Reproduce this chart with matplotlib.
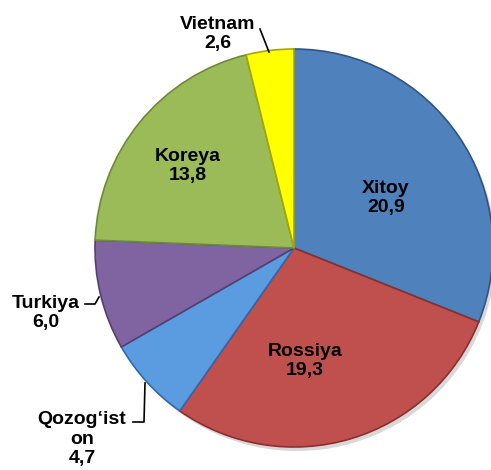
import matplotlib
matplotlib.use("Agg")
import matplotlib.pyplot as plt

# Data
labels = ["Xitoy", "Rossiya", "Qozog\u2018ist\non", "Turkiya", "Koreya", "Vietnam"]
values = [20.9, 19.3, 4.7, 6.0, 13.8, 2.6]
value_text = ["20,9", "19,3", "4,7", "6,0", "13,8", "2,6"]
colors = ["#4F81BD", "#C0504D", "#5B9BE0", "#8064A2", "#9BBB59", "#FFFF00"]
edges = ["#2E5485", "#8C2E2C", "#2F6AAE", "#54406F", "#6E8A36", "#A8A800"]

W, H = 491, 470
fig = plt.figure(figsize=(W / 100, H / 100), dpi=100)
ax = fig.add_axes([0, 0, 1, 1])

cx, cy, r = 294, H - 248, 199

# soft shadow
ax.pie(values, startangle=90, counterclock=False, center=(cx + 3, cy - 4),
       radius=r, colors=["#D8D8D8"] * len(values),
       wedgeprops=dict(linewidth=0), frame=True)
wedges, _ = ax.pie(values, startangle=90, counterclock=False, center=(cx, cy),
                   radius=r, colors=colors,
                   wedgeprops=dict(linewidth=1.2), frame=True)
for w, ec in zip(wedges, edges):
    w.set_edgecolor(ec)
ax.set_xlim(0, W)
ax.set_ylim(0, H)
ax.set_aspect("equal")
ax.axis("off")

font = dict(family="Liberation Sans", weight="bold", fontsize=14,
            ha="center", va="center", linespacing=1.2)

# label positions in pixel coords (from top-left)
pos = {
    0: (386, 198),
    1: (305, 361),
    2: (82, 439),
    3: (46, 313),
    4: (188, 166),
    5: (218, 34),
}
for i, (x, y) in pos.items():
    ax.text(x, H - y, f"{labels[i]}\n{value_text[i]}", **font)

# leader lines
lk = dict(color="black", linewidth=1.2)
ax.plot([260, 269], [H - 29, H - 52], **lk)
ax.plot([85, 95, 99], [H - 304, H - 304, H - 297], **lk)
ax.plot([133, 144, 145], [H - 422, H - 422, H - 383], **lk)

fig.savefig("out.png", dpi=100)
